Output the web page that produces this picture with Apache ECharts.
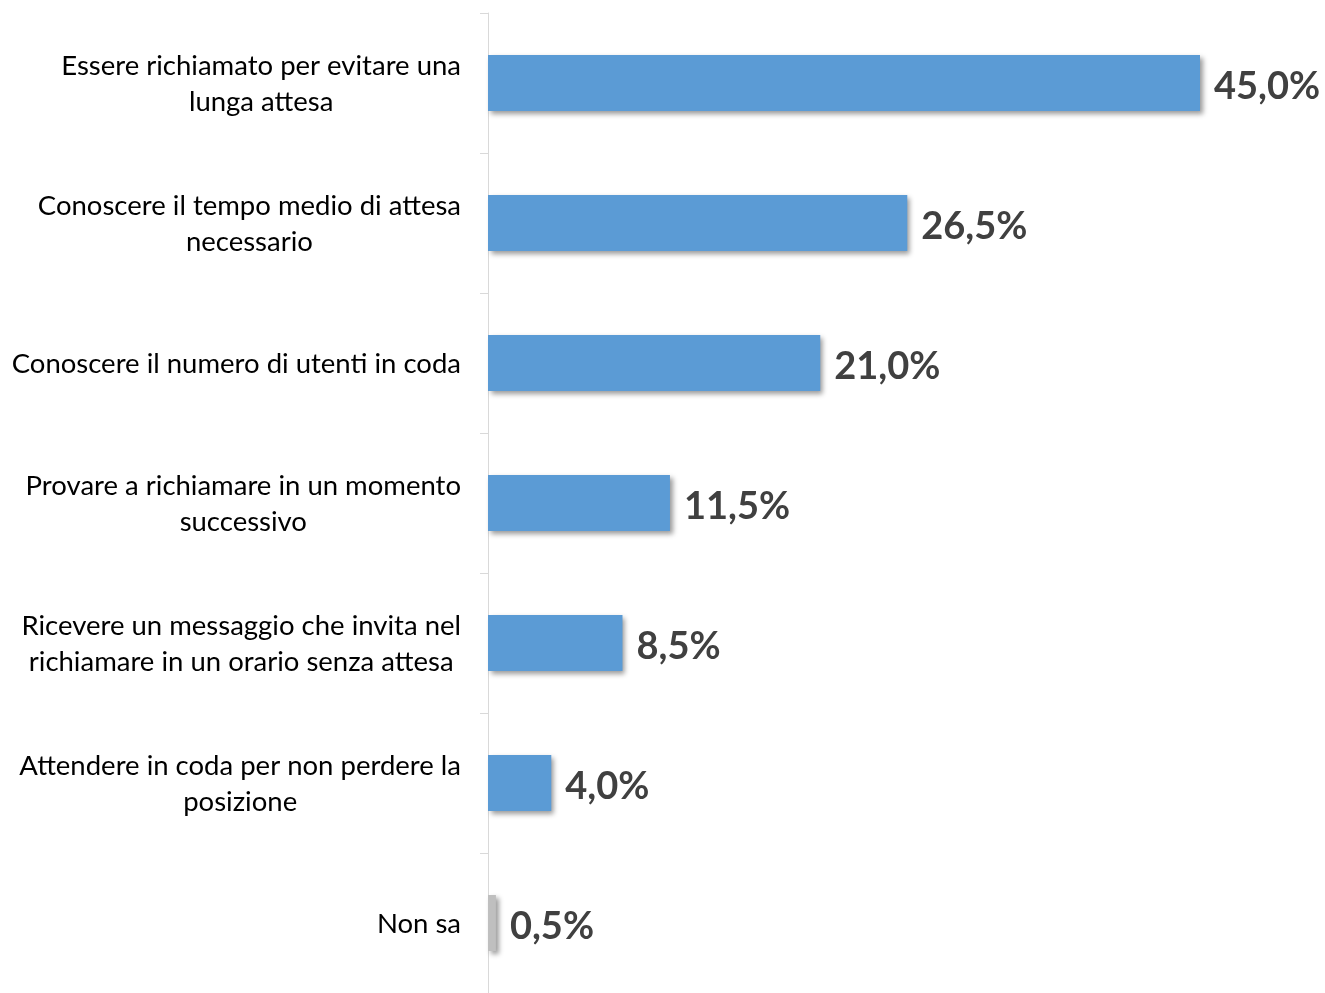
<!DOCTYPE html>
<html><head><meta charset="utf-8">
<script src="https://cdn.jsdelivr.net/npm/echarts@6/dist/echarts.min.js"></script>
<style>html,body{margin:0;padding:0;background:#fff}#c{width:1325px;height:993px}</style>
</head><body><div id="c"></div>
<script>
const categories = [
  "Essere richiamato per evitare una\nlunga attesa",
  "Conoscere il tempo medio di attesa\nnecessario",
  "Conoscere il numero di utenti in coda",
  "Provare a richiamare in un momento\nsuccessivo",
  "Ricevere un messaggio che invita nel\nrichiamare in un orario senza attesa",
  "Attendere in coda per non perdere la\nposizione",
  "Non sa"
];
const values = [45.0, 26.5, 21.0, 11.5, 8.5, 4.0, 0.5];
const barColors = ["#5B9BD5","#5B9BD5","#5B9BD5","#5B9BD5","#5B9BD5","#5B9BD5","#BFBFBF"];

const chart = echarts.init(document.getElementById('c'), null, {renderer:'canvas'});
chart.setOption({
  animation:false,
  grid:{left:488, right:125, top:13, height:984, containLabel:false},
  xAxis:{type:'value', min:0, max:45, show:false},
  yAxis:{
    type:'category', inverse:true, data:categories,
    axisLine:{show:true, lineStyle:{color:'#D9D9D9', width:1}},
    axisTick:{show:true, length:8, lineStyle:{color:'#D9D9D9'}},
    axisLabel:{
      margin:27, align:'right',
      formatter:function(v){return v.split('\n').map(s=>'{a|'+s+'}').join('\n');},
      rich:{a:{fontFamily:'Lato', fontSize:27.5, color:'#000', lineHeight:36, align:'center', padding:[3,0,0,0]}}
    },
    splitLine:{show:false}
  },
  series:[{
    type:'bar', barWidth:'40%',
    data:values.map((v,i)=>({value:v, itemStyle:{color:barColors[i]}})),
    itemStyle:{shadowColor:'rgba(0,0,0,0.4)', shadowBlur:5, shadowOffsetX:3, shadowOffsetY:3},
    label:{show:true, position:'right', distance:14, offset:[0,4],
      formatter:p=>p.value.toFixed(1).replace('.',',')+'%',
      fontFamily:'Lato', fontWeight:'bold', fontSize:38, color:'#404040'}
  }]
});
</script></body></html>
